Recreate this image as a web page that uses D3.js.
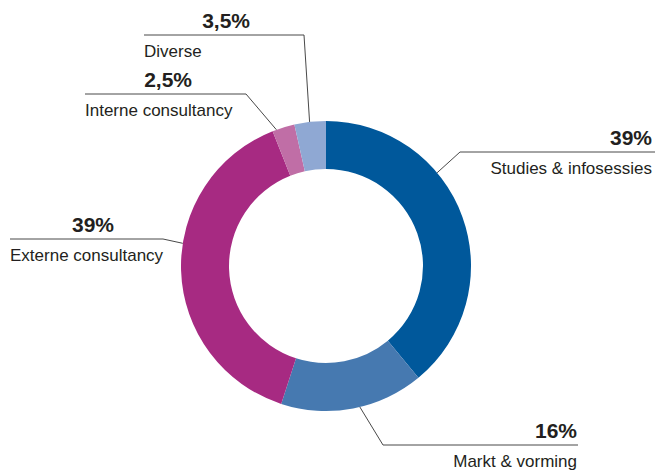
<!DOCTYPE html>
<html>
<head>
<meta charset="utf-8">
<script src="https://cdn.jsdelivr.net/npm/d3@7"></script>
<style>
  body { margin: 0; background: #fff; }
  svg text { font-family: "Liberation Sans", Arial, sans-serif; fill: #231f20; }
</style>
</head>
<body>
<svg id="chart" width="655" height="470"></svg>
<script>
// data
var categories = ['Studies & infosessies', 'Markt & vorming', 'Externe consultancy', 'Interne consultancy', 'Diverse'];
var values = [39, 16, 39, 2.5, 3.5];
var valueLabels = ['39%', '16%', '39%', '2,5%', '3,5%'];
var colors = ['#00589b', '#4679b0', '#a72a82', '#c06ea6', '#8fa8d3'];

// label layout: anchor angle on ring (deg), elbow point, line end, text anchor
var labelLayout = [
  { ang: 50, elbow: [460, 152], end: [655, 152], tx: 652, anchor: 'end' },
  { ang: 166.5, elbow: [383, 445], end: [578, 445], tx: 577, anchor: 'end' },
  { ang: 279, elbow: [163, 239], end: [10, 239], tx: 10, anchor: 'start', pctX: 93, pctAnchor: 'middle' },
  { ang: 340, elbow: [246, 94], end: [85, 94], tx: 85, anchor: 'start', pctX: 192, pctAnchor: 'end' },
  { ang: 353.5, elbow: [304, 35], end: [144, 35], tx: 144, anchor: 'start', pctX: 250, pctAnchor: 'end' }
];

var cx = 326, cy = 266, rOut = 145, rIn = 97;
var svg = d3.select('#chart');
var g = svg.append('g').attr('transform', 'translate(' + cx + ',' + cy + ')');

var pie = d3.pie().sort(null).value(function(d){ return d; });
var arc = d3.arc().innerRadius(rIn).outerRadius(rOut);
var arcs = pie(values);

g.selectAll('path.slice')
  .data(arcs)
  .enter().append('path')
  .attr('class', 'slice')
  .attr('d', arc)
  .attr('fill', function(d, i){ return colors[i]; });

// leader lines + labels
arcs.forEach(function(d, i){
  var L = labelLayout[i];
  var a = L.ang * Math.PI / 180;
  var sx = cx + rOut * Math.sin(a), sy = cy - rOut * Math.cos(a);
  svg.append('polyline')
    .attr('points', [[sx, sy], L.elbow, L.end].map(function(p){ return p.join(','); }).join(' '))
    .attr('fill', 'none')
    .attr('stroke', '#333')
    .attr('stroke-width', 0.9);

  var lineY = L.end[1];
  svg.append('text')
    .attr('x', L.pctX !== undefined ? L.pctX : L.tx)
    .attr('y', lineY - 7)
    .attr('text-anchor', L.pctAnchor || L.anchor)
    .attr('font-weight', 'bold')
    .attr('font-size', 21)
    .text(valueLabels[i]);

  svg.append('text')
    .attr('x', L.tx)
    .attr('y', lineY + 22)
    .attr('text-anchor', L.anchor)
    .attr('font-size', 17)
    .text(categories[i]);
});
</script>
</body>
</html>
